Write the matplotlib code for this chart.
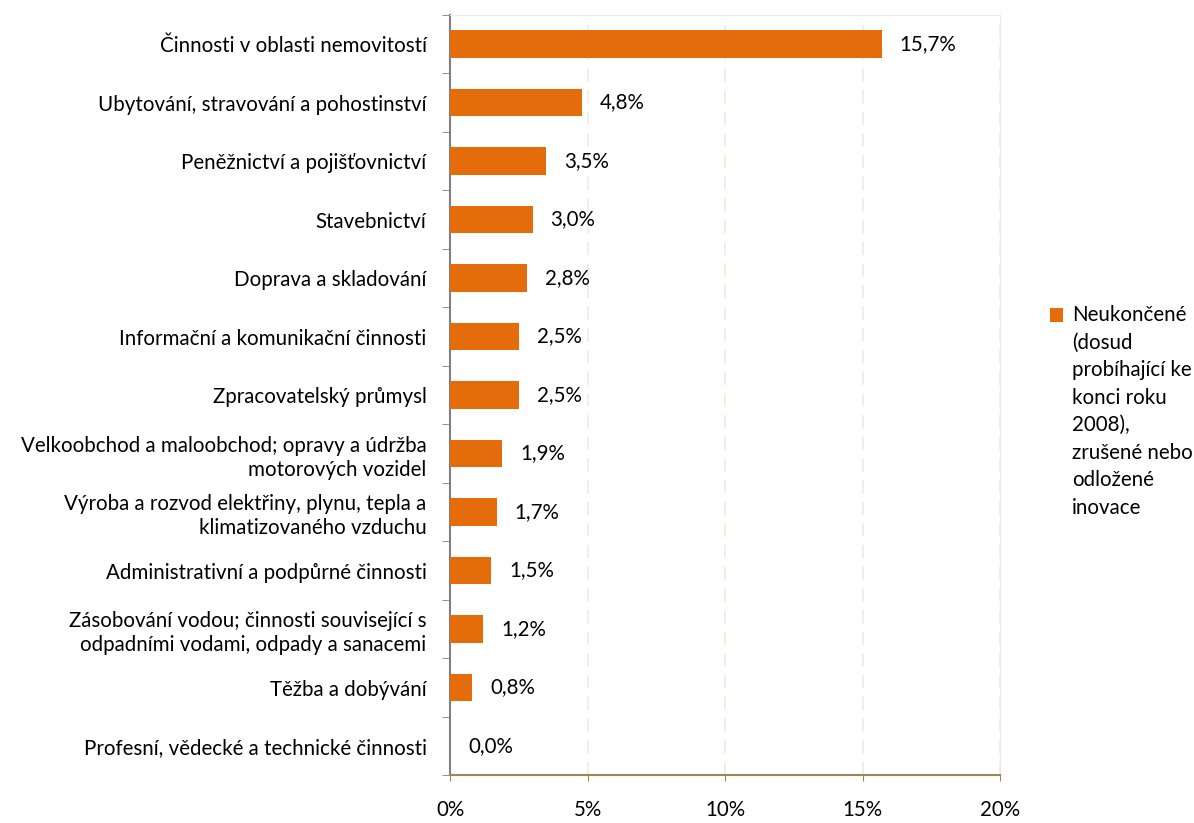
import matplotlib.pyplot as plt

plt.rcParams['font.family'] = ['Lato', 'DejaVu Sans']

categories = [
    'Činnosti v oblasti nemovitostí',
    'Ubytování, stravování a pohostinství',
    'Peněžnictví a pojišťovnictví',
    'Stavebnictví',
    'Doprava a skladování',
    'Informační a komunikační činnosti',
    'Zpracovatelský průmysl',
    'Velkoobchod a maloobchod; opravy a údržba\nmotorových vozidel',
    'Výroba a rozvod elektřiny, plynu, tepla a\nklimatizovaného vzduchu',
    'Administrativní a podpůrné činnosti',
    'Zásobování vodou; činnosti související s\nodpadními vodami, odpady a sanacemi',
    'Těžba a dobývání',
    'Profesní, vědecké a technické činnosti',
]
values = [15.7, 4.8, 3.5, 3.0, 2.8, 2.5, 2.5, 1.9, 1.7, 1.5, 1.2, 0.8, 0.0]
series_name = 'Neukončené\n(dosud\nprobíhající ke\nkonci roku\n2008),\nzrušené nebo\nodložené\ninovace'
xticks = [0, 5, 10, 15, 20]

fs = 14.8
fig = plt.figure(figsize=(11.94, 8.23), dpi=100)
ax = fig.add_axes([0.377, 0.058, 0.4605, 0.924])

pos = list(range(len(categories)))
ax.barh(pos, values, height=0.47, color='#E46C0A', label=series_name, zorder=3)
ax.set_ylim(len(categories) - 0.5, -0.5)
ax.set_xlim(0, 20)

for p, v in zip(pos, values):
    ax.text(v + 0.65, p, ('%.1f' % v).replace('.', ',') + '%', va='center', ha='left', fontsize=fs)

ax.set_yticks(pos)
ax.set_yticklabels(categories, fontsize=fs, ha='right', linespacing=1.25)
ax.set_yticks([p - 0.5 for p in pos] + [len(pos) - 0.5], minor=True)
ax.tick_params(axis='y', which='major', length=0, pad=17)
ax.tick_params(axis='y', which='minor', length=6, color='#808080')

ax.set_xticks(xticks)
ax.set_xticklabels(['%d%%' % t for t in xticks], fontsize=fs)
ax.tick_params(axis='x', length=4, color='#948A54', pad=14)

ax.grid(axis='x', color='#EEECE1', linestyle=(0, (8, 5)), linewidth=1.2, zorder=0)
for s in ['top', 'right']:
    ax.spines[s].set_color('#EEECE1')
ax.spines['left'].set_color('#808080')
ax.spines['left'].set_linewidth(1.5)
ax.spines['bottom'].set_color('#948A54')
ax.spines['bottom'].set_linewidth(1.5)

leg = fig.legend(loc='center left', bbox_to_anchor=(0.864, 0.5), frameon=False, fontsize=fs,
                 handlelength=0.65, handleheight=0.65, handletextpad=0.4)
for t in leg.get_texts():
    t.set_multialignment('left')
    t.set_linespacing(1.47)
# move the square up to the first line of the label
h = leg.legend_handles[0]
h.set_y(h.get_y() + 70)

fig.savefig('out.png', dpi=100)
